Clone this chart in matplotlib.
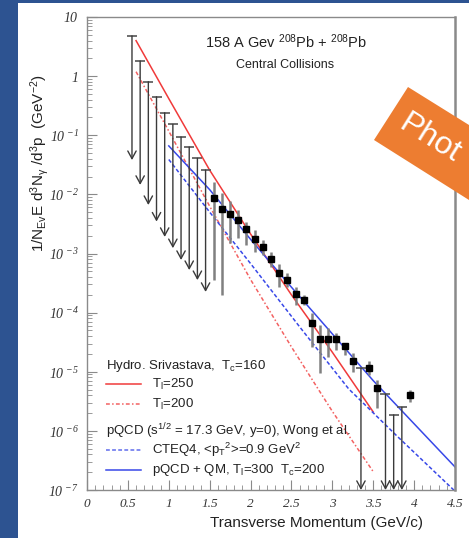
import matplotlib
matplotlib.use('Agg')
import matplotlib.pyplot as plt
from matplotlib.patches import Rectangle, Polygon
from matplotlib.ticker import MultipleLocator, LogLocator, NullFormatter
import numpy as np

plt.rcParams['font.family'] = 'Liberation Sans'
plt.rcParams['mathtext.fontset'] = 'custom'
plt.rcParams['mathtext.rm'] = 'Liberation Sans'
plt.rcParams['mathtext.it'] = 'Liberation Sans:italic'
# serif italic, used only for the y tick labels
plt.rcParams['mathtext.sf'] = 'Liberation Serif:italic'

pt_x = [1.55, 1.65, 1.75, 1.85, 1.95, 2.05, 2.15, 2.25, 2.35, 2.45, 2.55,
        2.65, 2.75, 2.85, 2.95, 3.05, 3.15, 3.25, 3.45, 3.55, 3.95]
pt_log = [-2.06, -2.25, -2.34, -2.43, -2.59, -2.76, -2.89, -3.09, -3.33, -3.44, -3.69,
          -3.79, -4.18, -4.44, -4.45, -4.45, -4.57, -4.82, -4.93, -5.27, -5.40]
err_lo_log = [-3.45, -3.70, -2.83, -2.74, -2.86, -2.97, -3.03, -3.22, -3.57, -3.57, -3.87,
              -3.87, -4.58, -5.02, -4.75, -4.63, -4.72, -5.01, -5.06, -5.62, -5.51]
err_hi_log = [-1.79, -1.98, -2.12, -2.27, -2.46, -2.60, -2.77, -2.97, -3.17, -3.33, -3.57,
              -3.70, -4.01, -4.21, -4.26, -4.35, -4.52, -4.69, -4.82, -5.14, -5.31]

# upper limits, low pT (top of limit and arrow tip)
ul_x = [0.55, 0.65, 0.75, 0.85, 0.95, 1.05, 1.15, 1.25, 1.35, 1.45]
ul_top_log = [0.68, 0.255, -0.095, -0.35, -0.62, -0.816, -1.03, -1.20, -1.39, -1.59]
ul_end_log = [-1.42, -1.84, -2.18, -2.46, -2.72, -2.91, -3.11, -3.28, -3.45, -3.65]

# upper limits, high pT (arrows run to the bottom of the frame)
ul2_x = [3.35, 3.65, 3.75, 3.85]
ul2_top_log = [-4.94, -5.38, -5.73, -5.60]
ul2_end_log = [-7.0, -7.0, -7.0, -7.0]

# model curves
hydro250_x = [0.6, 1.0, 1.5, 2.0, 2.5, 3.0, 3.5]
hydro250_log = [0.60, -0.38, -1.59, -2.67, -3.70, -4.67, -5.68]
hydro200_x = [0.6, 1.0, 1.5, 2.0, 2.5, 3.0, 3.5]
hydro200_log = [0.075, -0.93, -2.2, -3.44, -4.58, -5.67, -6.69]
cteq_x = [1.0, 1.5, 2.0, 2.6, 3.2, 3.8, 4.5]
cteq_log = [-1.41, -2.3, -3.17, -4.24, -5.29, -6.1, -7.02]
qm_x = [1.0, 1.5, 2.0, 2.5, 3.0, 3.5, 4.0, 4.5]
qm_log = [-1.18, -1.92, -2.76, -3.57, -4.36, -5.15, -5.88, -6.61]

W, H = 469, 538
fig = plt.figure(figsize=(W / 100, H / 100), dpi=100)
fig.patches.append(Rectangle((0, 0), 1, 1, transform=fig.transFigure,
                             facecolor='#2d5391', edgecolor='none', zorder=-10))
fig.patches.append(Rectangle((18 / W, 0), 1, 1 - 3 / H, transform=fig.transFigure,
                             facecolor='white', edgecolor='none', zorder=-9))

L, R, T, B = 87, 455, 17, 490
ax = fig.add_axes([L / W, 1 - B / H, (R - L) / W, (B - T) / H])
ax.set_facecolor('none')
ax.set_yscale('log')
ax.set_xlim(0, 4.5)
ax.set_ylim(1e-7, 10)

red = '#f03a3a'
blue = '#3848e8'

ax.plot(hydro250_x, 10 ** np.array(hydro250_log), color=red, lw=1.1)
ax.plot(hydro200_x, 10 ** np.array(hydro200_log), color=red, lw=1.1,
        ls=(0, (2.5, 1.5, 1, 1.5)), alpha=0.8)
ax.plot(cteq_x, 10 ** np.array(cteq_log), color=blue, lw=1.1, ls=(0, (2.5, 1.5)))
ax.plot(qm_x, 10 ** np.array(qm_log), color=blue, lw=1.1)

# data with error bars
y = 10 ** np.array(pt_log)
ax.vlines(pt_x, 10 ** np.array(err_lo_log), 10 ** np.array(err_hi_log),
          color='#808080', lw=1.8, zorder=3)
ax.plot(pt_x, y, 's', color='black', ms=5, zorder=4)

# upper limits
def limits(xs, tops, ends):
    for xv, t, e in zip(xs, tops, ends):
        ax.annotate('', xy=(xv, 10 ** e), xytext=(xv, 10 ** t),
                    arrowprops=dict(arrowstyle='->,head_length=0.55,head_width=0.3',
                                    color='#3a3a3a', lw=1.0, shrinkA=0, shrinkB=0),
                    annotation_clip=False)
        ax.plot([xv], [10 ** t], marker='_', ms=7, mew=1.2, color='#555555')

limits(ul_x, ul_top_log, ul_end_log)
limits(ul2_x, ul2_top_log, ul2_end_log)

# axes styling
for s in ax.spines.values():
    s.set_color('#8a8a8a')
    s.set_linewidth(1.0)
ax.spines['right'].set_linewidth(1.8)
ax.xaxis.set_major_locator(MultipleLocator(0.5))
ax.xaxis.set_minor_locator(MultipleLocator(0.1))
ax.yaxis.set_major_locator(LogLocator(base=10, numticks=20))
ax.yaxis.set_minor_locator(LogLocator(base=10, subs=np.arange(2, 10), numticks=20))
ax.yaxis.set_minor_formatter(NullFormatter())
ax.tick_params(which='both', direction='in', color='#8a8a8a', top=False, right=False)
ax.tick_params(which='major', length=7, pad=6)
ax.tick_params(which='minor', length=3.5)

xt = [0, 0.5, 1, 1.5, 2, 2.5, 3, 3.5, 4, 4.5]
ax.set_xticks(xt)
ax.set_xticklabels(['0', '0.5', '1', '1.5', '2', '2.5', '3', '3.5', '4', '4.5'],
                   fontfamily='Liberation Serif', fontstyle='italic', fontsize=9.5,
                   color='#333333')
yt = [1e-7, 1e-6, 1e-5, 1e-4, 1e-3, 1e-2, 1e-1, 1, 10]
ylab = []
for v in yt:
    e = int(round(np.log10(v)))
    if e == 1:
        ylab.append(r'$\mathsf{10}$')
    elif e == 0:
        ylab.append(r'$\mathsf{1}$')
    else:
        ylab.append(r'$\mathsf{10}^{\ \mathsf{-%d}}$' % -e)
ax.set_yticks(yt)
ax.set_yticklabels(ylab, fontsize=10, color='#333333')

# titles
def axp(px, py):
    return ((px - L) / (R - L), (B - py) / (B - T))

ax.text(*axp(205, 42), r'158 A Gev $^{208}$Pb + $^{208}$Pb', transform=ax.transAxes,
        fontsize=10.5, va='center', ha='left', color='#222222')
ax.text(*axp(236, 65), 'Central Collisions', transform=ax.transAxes,
        fontsize=9, va='center', ha='left', color='#222222')

# legend
lt = dict(transform=ax.transAxes, fontsize=9.5, va='center', ha='left', color='#222222')
ax.text(*axp(106, 366), r'Hydro. Srivastava,  T$_\mathrm{c}$=160', **lt)
ax.text(*axp(152, 384), r'T$_\mathrm{l}$=250', **lt)
ax.text(*axp(152, 404), r'T$_\mathrm{l}$=200', **lt)
ax.text(*axp(106, 431), r'pQCD (s$^\mathrm{1/2}$ = 17.3 GeV, y=0), Wong et al.', **lt)
ax.text(*axp(152, 450), r'CTEQ4, <p$_\mathrm{T}$$^\mathrm{2}$>=0.9 GeV$^\mathrm{2}$', **lt)
ax.text(*axp(152, 470), r'pQCD + QM, T$_\mathrm{l}$=300  T$_\mathrm{c}$=200', **lt)

def sample(py, **kw):
    (x0, yy), (x1, _) = axp(106, py), axp(141, py)
    ax.plot([x0, x1], [yy, yy], transform=ax.transAxes, lw=1.1, **kw)

sample(384, color=red)
sample(404, color=red, ls=(0, (2.5, 1.5, 1, 1.5)), alpha=0.8)
sample(450, color=blue, ls=(0, (2.5, 1.5)), alpha=0.8)
sample(470, color=blue)

fig.text(316 / W, 1 - 523 / H, 'Transverse Momentum (GeV/c)', ha='center', va='center',
         fontsize=11, color='#222222')
fig.text(40 / W, 1 - 163 / H,
         r'1/N$_\mathrm{Ev}$E d$^\mathrm{3}$N$_\mathrm{\gamma}$ /d$^\mathrm{3}$p  (GeV$^\mathrm{-2}$)',
         rotation=90, ha='center', va='center', fontsize=11, color='#222222')

# orange banner in the corner
banner = [(408, 87), (374, 140), (469, 200), (469, 125)]
fig.patches.append(Polygon([(px / W, 1 - py / H) for px, py in banner], closed=True,
                           transform=fig.transFigure, facecolor='#ed7d31',
                           edgecolor='none', zorder=5))
fig.text(402 / W, 1 - 121 / H, 'Phot', rotation=-32, rotation_mode='anchor',
         ha='left', va='center', fontsize=23, color='white', zorder=6)

fig.savefig('out.png', dpi=100)
